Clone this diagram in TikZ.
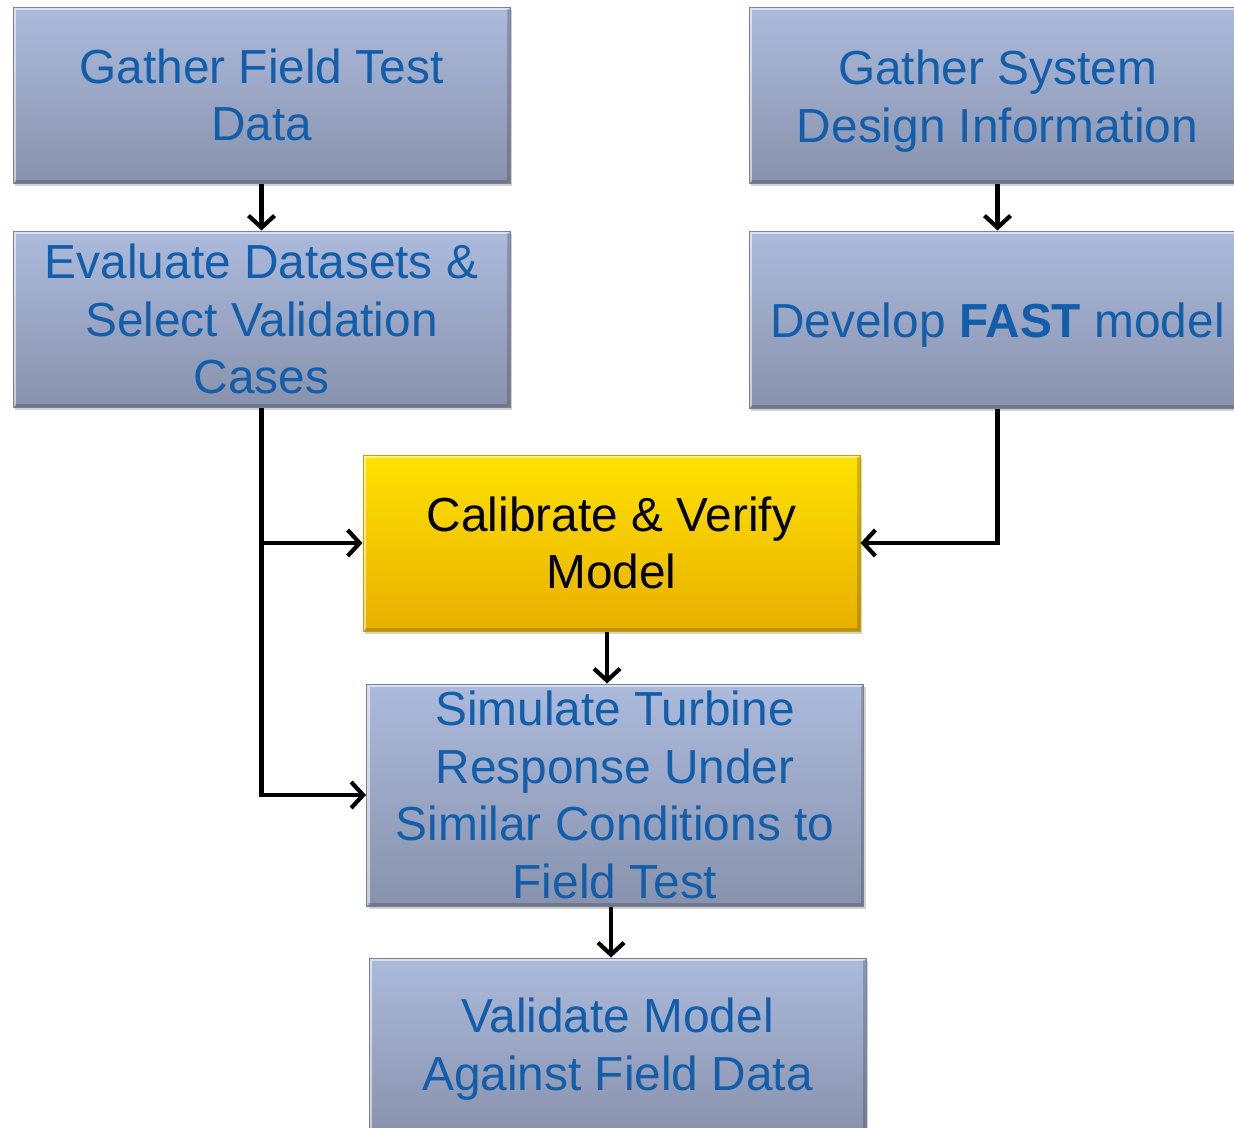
\documentclass[tikz,border=0pt]{standalone}
\usepackage{fontspec}
\setmainfont{Liberation Sans}
\usetikzlibrary{arrows.meta,shadows,calc}
\definecolor{txtblue}{RGB}{18,94,170}
\definecolor{boxtop}{RGB}{172,186,220}
\definecolor{boxbot}{RGB}{136,146,172}
\definecolor{boxedge}{RGB}{120,128,150}
\definecolor{yeltop}{RGB}{255,226,0}
\definecolor{yelbot}{RGB}{232,176,0}
\definecolor{yeledge}{RGB}{200,160,0}
\tikzset{
  bluebox/.style={draw=boxedge, line width=1pt, top color=boxtop, bottom color=boxbot,
    minimum width=497pt, inner sep=0pt, align=center, text=txtblue,
    font=\fontsize{47.8}{57.5}\selectfont,
    drop shadow={shadow xshift=2pt, shadow yshift=-3pt, opacity=0.35},
    path picture={
      \draw[white, opacity=0.55, line width=3pt]
        ([xshift=1.5pt,yshift=1.5pt]path picture bounding box.south west) --
        ([xshift=1.5pt,yshift=-1.5pt]path picture bounding box.north west) --
        ([xshift=-1.5pt,yshift=-1.5pt]path picture bounding box.north east);
      \draw[black, opacity=0.18, line width=3pt]
        ([xshift=-1.5pt,yshift=-1.5pt]path picture bounding box.north east) --
        ([xshift=-1.5pt,yshift=1.5pt]path picture bounding box.south east) --
        ([xshift=1.5pt,yshift=1.5pt]path picture bounding box.south west);
    }},
  yelbox/.style={bluebox, draw=yeledge, top color=yeltop, bottom color=yelbot, text=black},
  flow/.style={line width=4.2pt, -{Straight Barb[length=12pt,width=26pt,line width=4.2pt]}}
}
\begin{document}
\begin{tikzpicture}[x=1pt,y=-1pt]
\useasboundingbox (0,0) rectangle (1234,1127);
\fill[white] (0,0) rectangle (1234,1127);

\node[bluebox, minimum height=176pt] (gf) at (261.5,95) {Gather Field Test\\Data};
\node[bluebox, minimum height=176pt] (ev) at (261.5,319) {Evaluate Datasets \&\\Select Validation\\Cases};
\node[bluebox, minimum height=176pt] (gs) at (997.5,95) {\rule{0pt}{47pt}Gather System\\Design Information};
\node[bluebox, minimum height=177pt] (dv) at (997.5,319.5) {\rule{0pt}{45pt}Develop \textbf{FAST} model};
\node[yelbox, minimum height=176pt] (cal) at (611.5,543) {Calibrate \& Verify\\Model};
\node[bluebox, minimum height=222pt] (sim) at (615,795) {Simulate Turbine\\Response Under\\Similar Conditions to\\Field Test};
\node[bluebox, minimum height=176pt] (val) at (617.5,1046) {\rule{0pt}{41pt}Validate Model\\Against Field Data};

\coordinate (xa) at (607,0);
\coordinate (xb) at (611,0);

\draw[flow] (gf.south) -- (ev.north);
\draw[flow] (gs.south) -- (dv.north);
\draw[flow] (ev.south) |- (sim.west);
\draw[flow] (ev.south |- cal.west) -- (cal.west);
\draw[flow] (dv.south) |- (cal.east);
\draw[flow] (cal.south -| xa) -- (sim.north -| xa);
\draw[flow] (sim.south -| xb) -- (val.north -| xb);
\end{tikzpicture}
\end{document}
